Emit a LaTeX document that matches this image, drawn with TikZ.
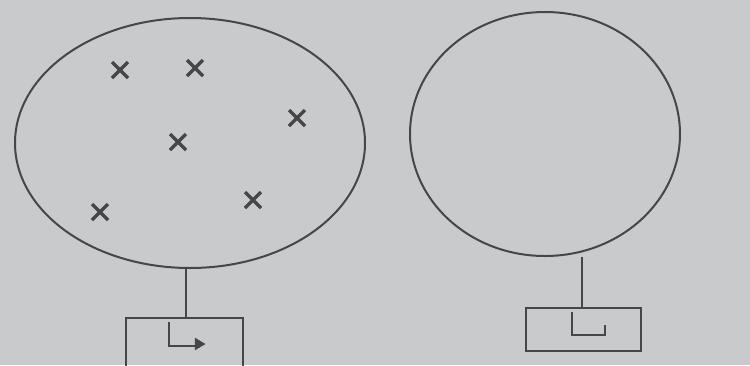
\documentclass[tikz,border=0pt]{standalone}
\usetikzlibrary{arrows.meta,shapes.geometric}
\definecolor{paper}{RGB}{200,202,203}
\definecolor{ink}{RGB}{70,70,74}
\begin{document}
\begin{tikzpicture}[x=1pt,y=-1pt,
  line/.style={draw=ink,line width=2pt},
  cross/.style={draw=ink,line width=3.2pt},
  box/.style={draw=ink,line width=2pt,inner sep=0pt}]
\fill[paper] (0,0) rectangle (750,365);
\useasboundingbox (0,0) rectangle (750,365);
% ellipses
\node[line,ellipse,minimum width=350pt,minimum height=250pt,inner sep=0pt] (E1) at (190,143) {};
\node[line,ellipse,minimum width=270pt,minimum height=244pt,inner sep=0pt] (E2) at (545,134) {};
% boxes
\node[box,anchor=north west,minimum width=117pt,minimum height=50pt] (B1) at (125,317) {};
\node[box,anchor=north west,minimum width=115pt,minimum height=43pt] (B2) at (525,307) {};
% stems
\coordinate (t1) at (186,317);
\coordinate (t2) at (582,307);
\draw[line] (E1.south -| t1) -- (t1);
\draw[line] (E2.south -| t2) -- (t2);
% symbols in boxes
\draw[line] (169,322) -- (169,346) -- (196,346);
\draw[ink,fill=ink] (205,344) -- (195,338) -- (195,350) -- cycle;
\draw[line] (572,312) -- (572,335) -- (605,335) -- (605,325);
% crosses
\foreach \p in {(120,70),(195,68),(297,118),(178,142),(100,212),(253,200)}{
  \draw[cross] \p ++(-8,-8) -- ++(16,16);
  \draw[cross] \p ++(-8,8) -- ++(16,-16);
}
\end{tikzpicture}
\end{document}
